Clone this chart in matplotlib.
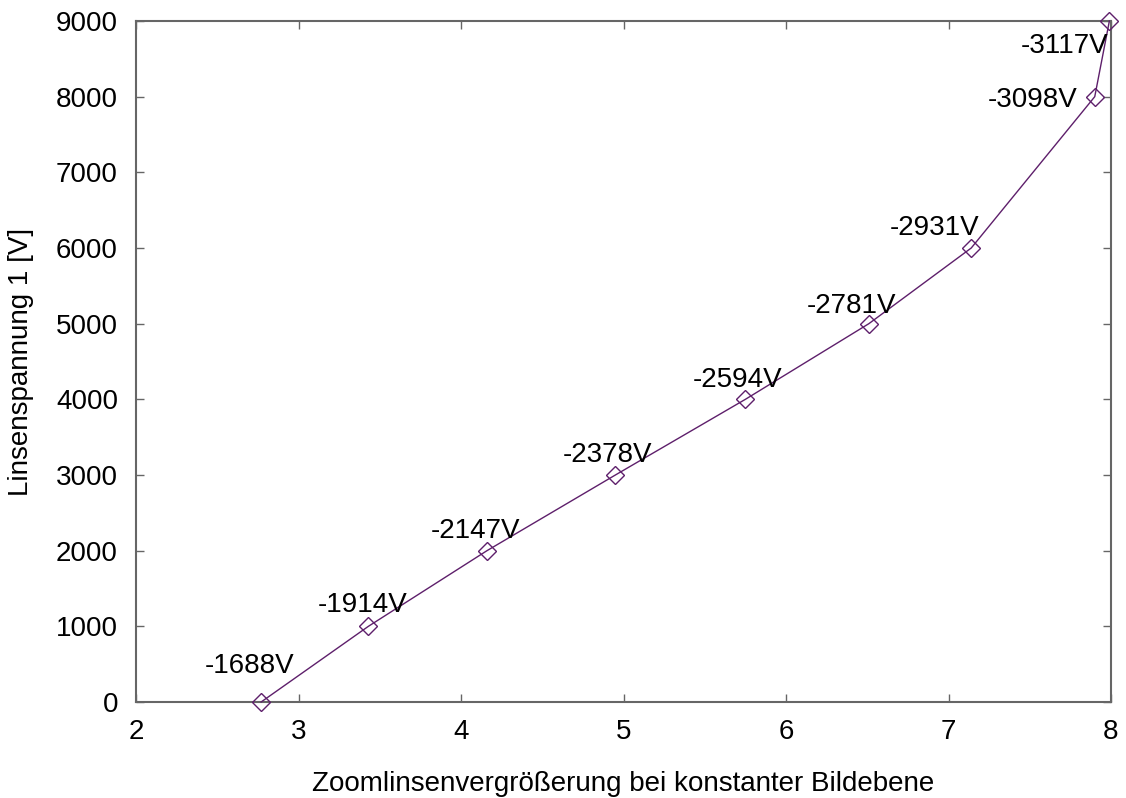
import matplotlib
matplotlib.use("Agg")
import matplotlib.pyplot as plt

plt.rcParams['font.family'] = ['Liberation Sans', 'DejaVu Sans']

# Zoom lens magnification at constant image plane vs. lens voltage 1
magnification = [2.77, 3.43, 4.16, 4.95, 5.75, 6.51, 7.14, 7.90, 7.99]
lens_voltage_1 = [0, 1000, 2000, 3000, 4000, 5000, 6000, 8000, 9000]
lens_voltage_2 = [-1688, -1914, -2147, -2378, -2594, -2781, -2931, -3098, -3117]

x_ticks = [2, 3, 4, 5, 6, 7, 8]
y_ticks = [0, 1000, 2000, 3000, 4000, 5000, 6000, 7000, 8000, 9000]

# label offsets (pixels) relative to each point: text centre / baseline
label_dx = [-12, -6, -11, -8, -8, -17, -37, -62, -45]
label_dy = [29, 14, 13, 13, 12, 11, 13, -10, -32]

line_color = '#5e1f6b'
frame_color = '#666666'
font_size = 20

fig = plt.figure(figsize=(11.26, 7.98), dpi=100)
ax = fig.add_axes([136 / 1126, 96 / 798, 975 / 1126, 681 / 798])

ax.plot(magnification, lens_voltage_1, color=line_color, lw=1.0,
        marker='D', markersize=9, markerfacecolor='none',
        markeredgecolor=line_color, markeredgewidth=1.0, clip_on=False,
        zorder=3)

for x, y, v, dx, dy in zip(magnification, lens_voltage_1, lens_voltage_2,
                           label_dx, label_dy):
    ax.annotate(f"{v}V", xy=(x, y), xytext=(dx, dy),
                textcoords='offset pixels', ha='center', va='baseline',
                fontsize=font_size, color='black', zorder=4)

ax.set_xlim(2, 8)
ax.set_ylim(0, 9000)
ax.set_xticks(x_ticks)
ax.set_yticks(y_ticks)
ax.tick_params(direction='in', length=6, width=1.0, color=frame_color,
               labelsize=font_size, top=True, right=True)
ax.tick_params(axis='y', pad=13)
ax.tick_params(axis='x', pad=12)

for spine in ax.spines.values():
    spine.set_color(frame_color)
    spine.set_linewidth(1.5)

ax.set_xlabel("Zoomlinsenvergrößerung bei konstanter Bildebene",
              fontsize=font_size, labelpad=19)
ax.set_ylabel("Linsenspannung 1 [V]", fontsize=font_size, labelpad=16)

fig.savefig("out.png", dpi=100)
